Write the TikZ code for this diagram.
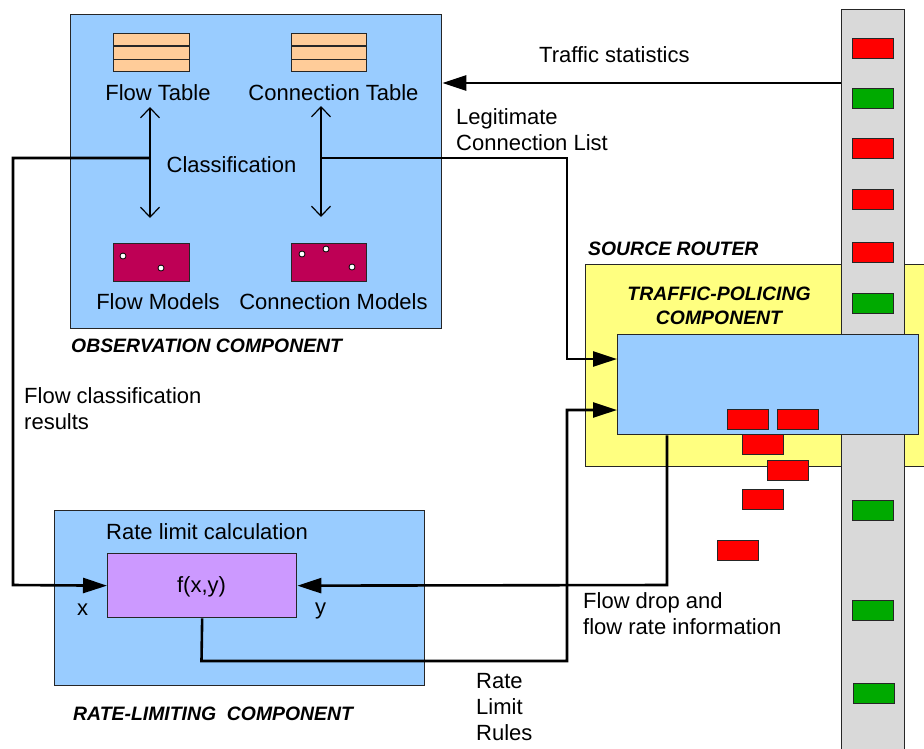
\documentclass[tikz,border=0pt]{standalone}
\usepackage{fontspec}
\setmainfont{Liberation Sans}
\usetikzlibrary{arrows.meta,calc}
\definecolor{boxblue}{RGB}{153,204,255}
\definecolor{routeryellow}{RGB}{255,255,128}
\definecolor{bargray}{RGB}{217,217,217}
\definecolor{pktred}{RGB}{255,0,0}
\definecolor{pktgreen}{RGB}{0,170,0}
\definecolor{tablepeach}{RGB}{255,204,153}
\definecolor{modelmag}{RGB}{190,0,85}
\definecolor{fxpurple}{RGB}{204,153,255}
\begin{document}
\begin{tikzpicture}[x=1pt,y=-1pt,
  box/.style={draw=black!85, line width=1.3pt, inner sep=0pt, anchor=north west},
  pkt/.style={draw=black!85, line width=1pt, minimum width=41pt, minimum height=20pt, inner sep=0pt, anchor=north west},
  conn/.style={line width=2.6pt, line join=miter},
  arr/.style={conn, -{Triangle[length=24pt,width=15pt]}},
  dbl/.style={line width=1.2pt, {Straight Barb[length=10pt,width=19pt]}-{Straight Barb[length=10pt,width=19pt]}},
  lbl/.style={font=\fontsize{22}{26.3}\selectfont, inner sep=0pt},
  mlbl/.style={lbl, align=left, anchor=north west},
  ttl/.style={font=\fontsize{19.4}{24}\selectfont\bfseries\itshape, inner sep=0pt},
  dot/.style={circle, draw=black, fill=white, line width=0.8pt, minimum size=6pt, inner sep=0pt}
]
\useasboundingbox (0,0) rectangle (924,748);
\clip (0,0) rectangle (924,748);

% ---------------- Observation component ----------------
\node[box, fill=boxblue, minimum width=371pt, minimum height=314pt] (obs) at (70,14) {};
\node[box, fill=tablepeach, minimum width=76pt, minimum height=38pt] (ftab) at (113,33) {};
\draw[black!85, line width=1.3pt] ($(ftab.north west)!1/3!(ftab.south west)$) -- ($(ftab.north east)!1/3!(ftab.south east)$);
\draw[black!85, line width=1.3pt] ($(ftab.north west)!2/3!(ftab.south west)$) -- ($(ftab.north east)!2/3!(ftab.south east)$);
\node[box, fill=tablepeach, minimum width=75pt, minimum height=38pt] (ctab) at (291,33) {};
\draw[black!85, line width=1.3pt] ($(ctab.north west)!1/3!(ctab.south west)$) -- ($(ctab.north east)!1/3!(ctab.south east)$);
\draw[black!85, line width=1.3pt] ($(ctab.north west)!2/3!(ctab.south west)$) -- ($(ctab.north east)!2/3!(ctab.south east)$);
\node[lbl, anchor=base] (ftabl) at (158,100) {Flow Table};
\node[lbl, anchor=base] (ctabl) at (333.5,100) {Connection Table};

\node[box, fill=modelmag, minimum width=76pt, minimum height=38pt] (fmod) at (113,243) {};
\node[dot] (fd1) at (123,256) {};
\node[dot] (fd2) at (161,268) {};
\node[box, fill=modelmag, minimum width=75pt, minimum height=38pt] (cmod) at (291,243) {};
\node[dot] (cd1) at (302,254) {};
\node[dot] (cd2) at (326,249) {};
\node[dot] (cd3) at (352,267) {};
\node[lbl, anchor=base] (fmodl) at (158,309) {Flow Models};
\node[lbl, anchor=base] (cmodl) at (333.5,309) {Connection Models};

\coordinate (fa1) at (150,107);
\coordinate (fa2) at (150,218);
\coordinate (ca1) at (321,106);
\coordinate (ca2) at (321,217);
\draw[dbl] (fa1) -- (fa2);
\draw[dbl] (ca1) -- (ca2);
\node[lbl, anchor=base] (classl) at (231.5,172) {Classification};
\node[ttl, anchor=base west] (obsl) at (71,352) {OBSERVATION COMPONENT};

% ---------------- Rate-limiting component ----------------
\node[box, fill=boxblue, minimum width=370pt, minimum height=175pt] (rate) at (54,510) {};
\node[lbl, anchor=base west] (ratel) at (106,539) {Rate limit calculation};
\node[box, fill=fxpurple, minimum width=189pt, minimum height=64pt] (fx) at (107,553) {};
\node[lbl, anchor=base] (fxl) at (201.5,592) {f(x,y)};
\node[lbl, anchor=base] (xl) at (82.5,615) {x};
\node[lbl, anchor=base] (yl) at (320.5,614) {y};
\node[ttl, anchor=base west] (ratecl) at (73,720) {RATE-LIMITING\ \ COMPONENT};

% ---------------- Source router ----------------
\node[ttl, anchor=base west] (srcl) at (588,255) {SOURCE ROUTER};
\node[box, fill=routeryellow, minimum width=345pt, minimum height=202pt] (router) at (585,264) {};
\node[box, fill=bargray, minimum width=63pt, minimum height=760pt] (bar) at (841,9) {};

\node[pkt, fill=pktred]   (b1) at (852,38) {};
\node[pkt, fill=pktgreen] (b2) at (852,88) {};
\node[pkt, fill=pktred]   (b3) at (852,138) {};
\node[pkt, fill=pktred]   (b4) at (852,189) {};
\node[pkt, fill=pktred]   (b5) at (852,242) {};
\node[pkt, fill=pktgreen] (b6) at (852,293) {};
\node[pkt, fill=pktgreen] (b7) at (852,500) {};
\node[pkt, fill=pktgreen] (b8) at (852,600) {};
\node[pkt, fill=pktgreen] (b9) at (853,683) {};

\node[ttl, anchor=base] (tpl1) at (719,300) {TRAFFIC-POLICING};
\node[ttl, anchor=base] (tpl2) at (719,324) {COMPONENT};
\node[box, fill=boxblue, minimum width=301pt, minimum height=100pt] (police) at (617,334) {};

\node[pkt, fill=pktred] (r1) at (727,409) {};
\node[pkt, fill=pktred] (r2) at (777,409) {};
\node[pkt, fill=pktred] (r3) at (742,434) {};
\node[pkt, fill=pktred] (r4) at (767,460) {};
\node[pkt, fill=pktred] (r5) at (742,489) {};
\node[pkt, fill=pktred] (r6) at (717,540) {};

% ---------------- Connectors ----------------
\coordinate (cl) at (150,158);
\coordinate (cr) at (321,158);
\draw[arr] (cl) -- (13,158) -- (13,585) -- (fx.west);
\draw[arr] (cr) -- (567,158) -- (567,359) -- (617,359);
\draw[arr] (police.south -| 667,0) -- (667,585) -- (fx.east);
\draw[arr] (fx.south) -- (201.5,661) -- (567,661) -- (567,410) -- (617,410);
\draw[arr] (bar.west |- 0,83) -- (obs.east |- 0,83);

% ---------------- Labels ----------------
\node[lbl, anchor=base west] (tstat) at (539,62) {Traffic statistics};
\node[mlbl] (legit) at (456,108) {Legitimate\\Connection List};
\node[mlbl] (fcr) at (24,387) {Flow classification\\results};
\node[mlbl] (fdrop) at (583,592) {Flow drop and\\flow rate information};
\node[mlbl] (rlr) at (476,673) {Rate\\Limit\\Rules};
\end{tikzpicture}
\end{document}
